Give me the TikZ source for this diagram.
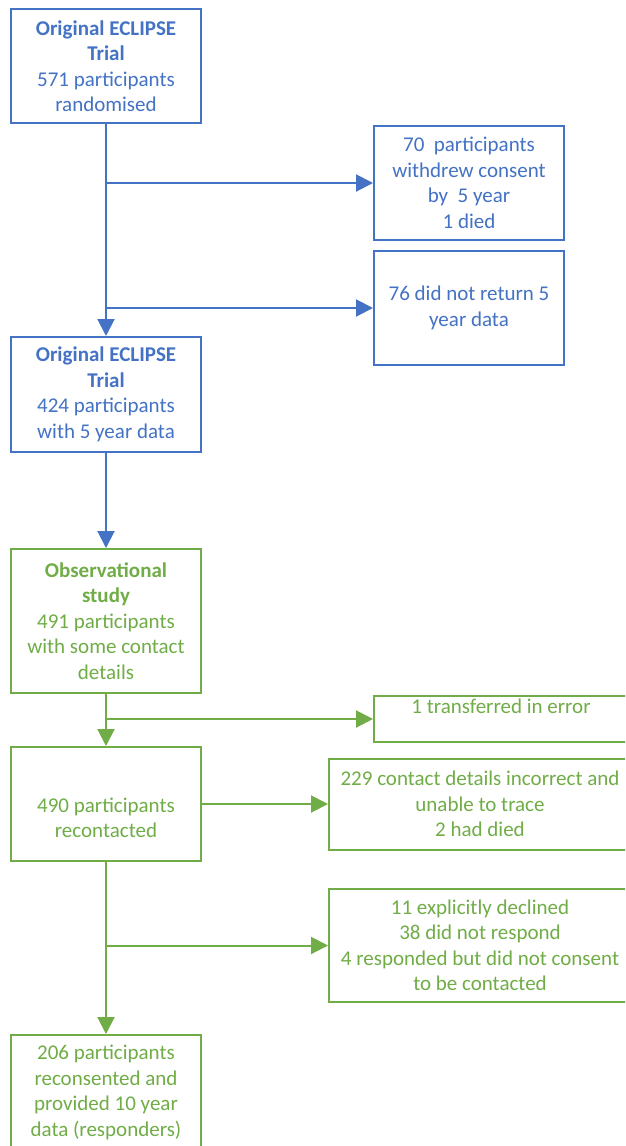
\documentclass[tikz,border=0pt]{standalone}
\usepackage{fontspec}
\setmainfont{Carlito}
\usetikzlibrary{arrows.meta}
\definecolor{oblue}{HTML}{4472C4}
\definecolor{ogreen}{HTML}{70AD47}
\begin{document}
\begin{tikzpicture}[x=1pt,y=-1pt,
  bx/.style={draw, line width=2pt, align=center, inner sep=0pt,
    font=\fontsize{21}{25.5}\selectfont},
  bbox/.style={bx, draw=oblue, text=oblue},
  gbox/.style={bx, draw=ogreen, text=ogreen},
  gtext/.style={align=center, inner sep=0pt, text=ogreen,
    font=\fontsize{21}{25.5}\selectfont},
  arr/.style={line width=2pt, -{Triangle[length=17pt,width=17pt]}},
  barr/.style={arr, draw=oblue, fill=oblue},
  garr/.style={arr, draw=ogreen, fill=ogreen}]
\useasboundingbox (0,0) rectangle (625,1146);
\clip (0,0) rectangle (625,1146);
\fill[white] (0,0) rectangle (625,1146);
% blue part
\node[bbox, minimum width=190pt, minimum height=114pt] (b1) at (106,66)
  {\textbf{Original ECLIPSE}\\\textbf{Trial}\\571 participants\\randomised};
\node[bbox, minimum width=190pt, minimum height=114pt] (bA) at (469,183)
  {70\ \ participants\\withdrew consent\\by\ \ 5 year\\1 died};
\node[bbox, minimum width=190pt, minimum height=114pt] (bB) at (469,308)
  {76 did not return 5\\year data};
\node[bbox, minimum width=190pt, minimum height=115pt] (b2) at (106,394.5)
  {\textbf{Original ECLIPSE}\\\textbf{Trial}\\424 participants\\with 5 year data};
% green part
\node[gbox, minimum width=190pt, minimum height=144pt] (b3) at (106,621)
  {\textbf{Observational}\\\textbf{study}\\491 participants\\with some contact\\details};
\node[gbox, minimum width=254pt, minimum height=46pt] (bT) at (501,719)
  {1 transferred in error\\\mbox{}};
\node[gbox, minimum width=190pt, minimum height=114pt] (b4) at (106,804) {};
\node[gtext] (b4t) at (106,818) {490 participants\\recontacted};
\node[gbox, minimum width=302pt, minimum height=91pt] (bC) at (480,804)
  {229 contact details incorrect and\\unable to trace\\2 had died};
\node[gbox, minimum width=302pt, minimum height=113pt] (bD) at (480,945.5)
  {11 explicitly declined\\38 did not respond\\4 responded but did not consent\\to be contacted};
\node[gbox, minimum width=190pt, minimum height=115pt] (b5) at (106,1092.5)
  {206 participants\\reconsented and\\provided 10 year\\data (responders)};
% connectors
\coordinate (j1) at (106,183);
\coordinate (j2) at (106,308);
\coordinate (j3) at (106,719);
\coordinate (j4) at (106,945.5);
\draw[barr] (b1.south) -- (b2.north);
\draw[barr] (j1) -- (bA.west);
\draw[barr] (j2) -- (bB.west);
\draw[barr] (b2.south) -- (b3.north);
\draw[garr] (b3.south) -- (b4.north);
\draw[garr] (j3) -- (bT.west);
\draw[garr] (b4.east) -- (bC.west);
\draw[garr] (b4.south) -- (b5.north);
\draw[garr] (j4) -- (bD.west);
\end{tikzpicture}
\end{document}
